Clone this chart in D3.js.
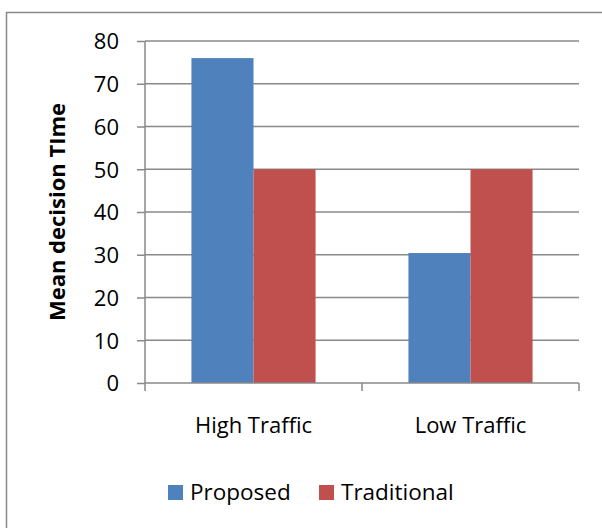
<!DOCTYPE html>
<html>
<head>
<meta charset="utf-8">
<script src="https://cdn.jsdelivr.net/npm/d3@7"></script>
<style>
  html, body { margin: 0; padding: 0; background: #fff; }
  svg { display: block; }
  text { font-family: "Open Sans", sans-serif; fill: #000; }
</style>
</head>
<body>
<svg id="chart" width="602" height="528"></svg>
<script>
const categories = ["High Traffic", "Low Traffic"];
const seriesNames = ["Proposed", "Traditional"];
const proposed = [76, 30.4];
const traditional = [50, 50];
const yTicks = [0, 10, 20, 30, 40, 50, 60, 70, 80];
const colors = ["#4F81BD", "#C0504D"];

const svg = d3.select("#chart");
const plot = { left: 145, right: 579, top: 41, bottom: 383 };
const gridColor = "#898989";
const FONT = "'Open Sans', sans-serif";

// chart frame
svg.append("rect")
  .attr("x", 6.5).attr("y", 12.5)
  .attr("width", 620).attr("height", 540)
  .attr("fill", "none").attr("stroke", gridColor).attr("stroke-width", 1.5);

const x = d3.scaleBand().domain(categories).range([plot.left, plot.right]).paddingInner(0).paddingOuter(0);
const y = d3.scaleLinear().domain([0, 80]).range([plot.bottom, plot.top]);

// gridlines
svg.append("g").selectAll("line").data(yTicks.filter(d => d > 0)).join("line")
  .attr("x1", plot.left).attr("x2", plot.right)
  .attr("y1", d => y(d)).attr("y2", d => y(d))
  .attr("stroke", gridColor).attr("stroke-width", 1.5);

// bars
const rows = categories.map((c, i) => ({ cat: c, values: [proposed[i], traditional[i]] }));
const groupW = x.bandwidth() * 0.572;
const inner = d3.scaleBand().domain(seriesNames).range([0, groupW]).padding(0);
const groups = svg.append("g").selectAll("g").data(rows).join("g")
  .attr("transform", d => `translate(${x(d.cat) + (x.bandwidth() - groupW) / 2},0)`);
groups.selectAll("rect").data(d => d.values.map((v, j) => ({ s: seriesNames[j], v, j }))).join("rect")
  .attr("x", d => inner(d.s))
  .attr("width", inner.bandwidth())
  .attr("y", d => y(d.v))
  .attr("height", d => y(0) - y(d.v))
  .attr("fill", d => colors[d.j]);

// y axis
const yAxis = svg.append("g").attr("transform", `translate(${plot.left},0)`)
  .call(d3.axisLeft(y).tickValues(yTicks).tickSize(8).tickPadding(18).tickFormat(d3.format("d")));
yAxis.select(".domain").attr("stroke", gridColor).attr("stroke-width", 1.5).attr("d", `M0,${plot.top}V${plot.bottom}`);
yAxis.selectAll(".tick line").attr("stroke", gridColor).attr("stroke-width", 1.5);
yAxis.selectAll(".tick text").attr("font-size", 22).attr("font-family", FONT).attr("fill", "#000").attr("dy", "0.36em");

// x axis
const xAxis = svg.append("g").attr("transform", `translate(0,${plot.bottom})`)
  .call(d3.axisBottom(x).tickSize(0).tickPadding(0));
xAxis.select(".domain").attr("stroke", gridColor).attr("stroke-width", 1.5).attr("d", `M${plot.left},0H${plot.right}`);
xAxis.selectAll(".tick text").attr("font-size", 22).attr("font-family", FONT).attr("fill", "#000")
  .attr("y", 50).attr("dy", null);
// category boundary ticks
const bounds = [plot.left, x(categories[1]), plot.right];
svg.append("g").selectAll("line").data(bounds).join("line")
  .attr("x1", d => d).attr("x2", d => d)
  .attr("y1", plot.bottom).attr("y2", plot.bottom + 8)
  .attr("stroke", gridColor).attr("stroke-width", 1.5);

// y axis title
svg.append("text")
  .attr("transform", `translate(65,${(plot.top + plot.bottom) / 2}) rotate(-90)`)
  .attr("text-anchor", "middle")
  .attr("font-size", 22).attr("font-weight", "bold")
  .text("Mean decision TIme");

// legend
const legendItems = [{ name: seriesNames[0], x: 168 }, { name: seriesNames[1], x: 319 }];
const lg = svg.append("g").selectAll("g").data(legendItems).join("g")
  .attr("transform", d => `translate(${d.x},485)`);
lg.append("rect").attr("width", 15).attr("height", 15).attr("fill", (d, i) => colors[i]);
lg.append("text").attr("x", 22).attr("y", 15).attr("font-size", 22.5).text(d => d.name);
</script>
</body>
</html>
